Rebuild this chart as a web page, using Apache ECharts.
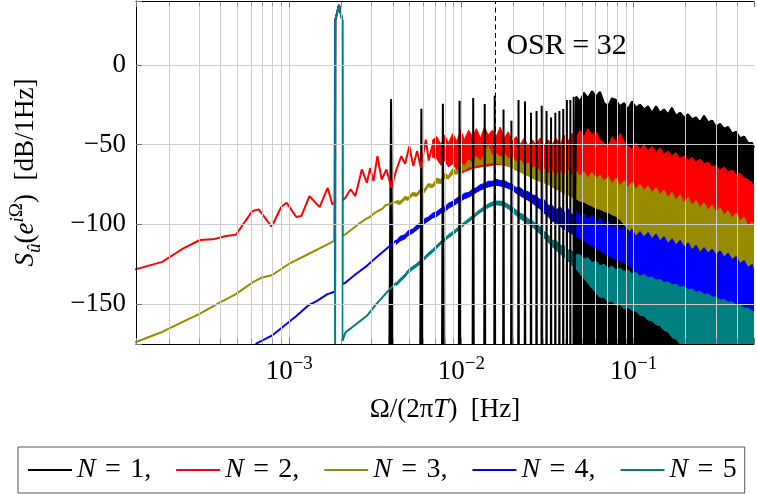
<!DOCTYPE html>
<html>
<head>
<meta charset="utf-8">
<title>Noise spectrum S_u</title>
<script src="https://cdn.jsdelivr.net/npm/echarts@6.0.0/dist/echarts.min.js"></script>
<style>
    html, body { margin: 0; padding: 0; background: #fff; }
    #chart { width: 757px; height: 494px; }
</style>
</head>
<body>
<div id="chart"></div>
<script>
    // axis ranges
    var xMin = 1.288e-4, xMax = 0.5;
    var yMin = -175, yMax = 40;

    // signal tone (shared by all N)
    var peakF = [0.00185, 0.001945, 0.00203];
    var peakV = [28, 37.5, 28];

    // N = 1: harmonics of the tone (black spikes)
    var harmF = [0.0039, 0.00585, 0.0078, 0.00975, 0.0117, 0.01365, 0.0156, 0.01755, 0.0195, 0.02145,
        0.0234, 0.02535, 0.0273, 0.02925, 0.0312, 0.03315, 0.0351, 0.03705, 0.039, 0.04095, 0.0429, 0.04485];
    var harmPeak = [-21.5, -27.5, -24.4, -22.5, -20.8, -24.6, -19.4, -28, -35, -22,
        -23, -30, -29, -25.6, -29, -33, -30, -29, -27.7, -22, -22, -20];

    // low frequency traces [f, dB]
    var redLow = [[1.25e-4, -128.5], [1.83e-4, -123.5], [2.43e-4, -115], [3.03e-4, -109.8], [3.6e-4, -109.4],
        [4.3e-4, -107.3], [4.9e-4, -106.5], [6.1e-4, -91.7], [6.65e-4, -90.6], [7.9e-4, -101.5], [9.0e-4, -89],
        [9.65e-4, -86.5], [1.1e-3, -95.4], [1.175e-3, -94.8], [1.31e-3, -82.3], [1.5e-3, -89.2], [1.67e-3, -77.1],
        [1.78e-3, -87.5], [1.845e-3, -86], [2.035e-3, -85], [2.12e-3, -83.3], [2.27e-3, -78], [2.42e-3, -82.3],
        [2.64e-3, -65.6], [2.825e-3, -74], [2.95e-3, -64.6], [3.08e-3, -72.9], [3.25e-3, -57.3], [3.44e-3, -71.9],
        [3.67e-3, -65.6], [3.92e-3, -77], [4.19e-3, -65.6], [4.47e-3, -57.3], [4.71e-3, -62], [4.98e-3, -51],
        [5.25e-3, -63.5], [5.52e-3, -54], [5.81e-3, -64.6], [6.21e-3, -46.9], [6.46e-3, -60], [6.8e-3, -50]];
    var oliveLow = [[1.25e-4, -174.3], [1.84e-4, -167.3], [2.42e-4, -161], [3.03e-4, -156], [3.94e-4, -149],
        [4.9e-4, -143.75], [6.09e-4, -136.5], [6.95e-4, -133.3], [7.92e-4, -131.9], [9.87e-4, -125],
        [1.284e-3, -118.75], [1.667e-3, -112.5], [1.823e-3, -110.4], [1.845e-3, -110], [2.035e-3, -107],
        [2.123e-3, -106.25], [2.35e-3, -102.5], [2.585e-3, -99], [2.8e-3, -96.5], [2.9e-3, -95.8],
        [3.148e-3, -92.7], [3.5e-3, -90], [3.6e-3, -88.2], [4.01e-3, -86.5], [4.2e-3, -86]];
    var blueLow = [[5.6e-4, -182], [6.51e-4, -174.4], [7.92e-4, -169.8], [9.87e-4, -161.5], [1.1e-3, -157.5],
        [1.284e-3, -151], [1.45e-3, -148], [1.667e-3, -143.75], [1.782e-3, -142.7], [1.845e-3, -142],
        [2.035e-3, -137.5], [2.123e-3, -136.5], [2.45e-3, -131], [2.825e-3, -126], [3.222e-3, -120.5],
        [3.834e-3, -113.5], [4.2e-3, -110]];
    var tealLow = [[1.845e-3, -200], [2.035e-3, -173], [2.123e-3, -167.7], [2.45e-3, -162.5], [2.825e-3, -157.3],
        [3.2e-3, -150], [3.834e-3, -140.6], [4.2e-3, -136.5]];

    // noisy high frequency part: shared frequency grid, top / bottom of each band
    var bandF = [0.0042, 0.0044, 0.0047, 0.0049, 0.0052, 0.0055, 0.0058, 0.0061, 0.0064, 0.0068,
        0.0072, 0.0076, 0.008, 0.0084, 0.0089, 0.0094, 0.0099, 0.0104, 0.011, 0.0116,
        0.0122, 0.0129, 0.0136, 0.0143, 0.0151, 0.0159, 0.0168, 0.0177, 0.0187, 0.0197,
        0.0208, 0.0219, 0.0231, 0.0244, 0.0257, 0.0271, 0.0286, 0.0302, 0.0318, 0.0336,
        0.0354, 0.0374, 0.0394, 0.0416, 0.0439, 0.0463, 0.0488, 0.0515, 0.0543, 0.0573,
        0.0604, 0.0638, 0.0673, 0.071, 0.0749, 0.079, 0.0833, 0.0879, 0.0927, 0.0978,
        0.1032, 0.1089, 0.1149, 0.1212, 0.1279, 0.1349, 0.1423, 0.1501, 0.1584, 0.1671,
        0.1763, 0.186, 0.1962, 0.207, 0.2184, 0.2304, 0.2431, 0.2564, 0.2705, 0.2854,
        0.3011, 0.3177, 0.3351, 0.3536, 0.373, 0.3935, 0.4151, 0.438, 0.462, 0.4874,
        0.5];

    var redTop = [null, null, null, null, null, null, null, null, null, -47,
        -45, -50, -44, -49, -43, -48, -41, -47, -41, -45,
        -40, -46, -39, -44, -41, -45, -39, -46, -42, -48,
        -45, -50, -46, -51, -47, -50, -46, -51, -47, -50,
        -46, -50, -44, -48, -43, -46, -41, -45, -40, -44,
        -42, -47, -49, -52, -45, -49, -43, -48, -51, -53,
        -49, -53, -50, -54, -51, -55, -52, -56, -54, -57,
        -55, -59, -57, -60, -58, -61, -59, -62, -61, -64,
        -63, -66, -64, -67, -66, -69, -68, -71, -72, -74,
        -75];
    var redBot = [null, null, null, null, null, null, null, null, null, -58,
        -59, -63, -60, -64, -62, -66, -68, -67, -66, -65,
        -64.5, -64, -63.5, -63.5, -63, -62.5, -62.5, -63, -63.5, -64.5,
        -66, -67, -67.5, -68.5, -69.5, -70.5, -71.5, -72, -73, -73.5,
        -74, -74, -74, -74, -74, -74, -74, -74.5, -74.5, -75,
        -76, -76.5, -77, -78, -78.5, -79, -80, -80.5, -81, -81.5,
        -82, -82.5, -83, -83.5, -84, -85, -85.5, -86, -87, -88,
        -89, -89.5, -90.5, -91, -92, -93, -93.5, -94, -95, -96,
        -96.5, -97.5, -98, -99, -100, -101, -102.5, -103.5, -105, -106,
        -107];
    var oliveTop = [-85, -85.5, -82.5, -83, -80, -80.5, -77.5, -77.8, -74.5, -75,
        -71, -72, -68, -69.5, -65, -66.5, -61.5, -63.5, -59.5, -61.5,
        -57.5, -60.5, -56, -51, -57, -55.5, -58, -55.5, -59, -57.5,
        -61, -59.5, -63, -61.5, -65, -63.5, -67, -65, -68.5, -66.5,
        -69.5, -66.5, -70, -66, -69.5, -66.5, -70, -67, -71, -67.5,
        -71.5, -69, -73, -70, -74.5, -71, -76, -72.5, -77, -73.5,
        -78, -75, -78.5, -76, -80, -77, -81.5, -78.5, -83, -80,
        -85, -81.5, -86.5, -83, -88, -85, -89.5, -86.5, -91, -88,
        -92.5, -89.5, -94, -91.5, -96, -93, -98, -95.5, -101, -98.5,
        -103];
    var oliveBot = [-87, -87.5, -84.5, -85, -82, -82.5, -79.5, -80, -76.5, -77,
        -74, -74.5, -71, -71.5, -68.5, -68.5, -66, -66, -64, -64,
        -63, -62.5, -62, -61.5, -61.5, -61.5, -62, -62.5, -63.5, -64.5,
        -66, -67, -68.5, -69.5, -71, -72, -73, -74, -75, -76.5,
        -78, -79, -80.5, -81.5, -83, -84, -85.5, -86, -87.5, -88.5,
        -90, -90.5, -92, -92.5, -94, -95, -97, -100, -103, -106,
        -109.5, -110, -110.5, -111, -111, -112, -112.5, -113.5, -114, -114.5,
        -115, -115.5, -116, -117, -118, -119, -119.5, -120, -120, -120.5,
        -121, -122, -122.5, -123, -124, -125.5, -126.5, -128, -129, -130,
        -131];
    var blueTop = [-110, -107.5, -106.5, -104, -103, -100.5, -99, -96.5, -95.5, -93,
        -92, -90, -89, -86.8, -85.5, -83.5, -82.5, -80.5, -80, -78,
        -77, -75, -74.5, -73, -73, -71.8, -72.5, -72.5, -74, -74.8,
        -77, -77, -79, -79.5, -81.5, -82, -84.5, -84.5, -88, -88,
        -91, -89, -92.5, -90, -94, -91.5, -95.5, -93, -97, -94.5,
        -99, -96, -100.5, -98, -102, -99.5, -104, -101.5, -106, -103,
        -107.5, -104.5, -108, -105, -109, -106, -110.5, -107.5, -112, -109,
        -113, -110, -114, -111.5, -116, -113, -117.5, -114.5, -118, -115.5,
        -119, -116.5, -120.5, -118, -122, -120, -124.5, -122.5, -127, -125,
        -129];
    var blueBot = [-112.5, -110.5, -109, -107, -105.5, -103.5, -101.5, -99.5, -98, -96,
        -95, -93, -92, -90, -88.5, -87, -85.5, -84, -83, -81.5,
        -80, -78.5, -77.5, -76.5, -76, -75.5, -76, -76.5, -77.5, -78.5,
        -80.5, -82, -83.5, -85, -86.5, -88.5, -90.5, -93, -95, -98,
        -99, -101, -103, -104.5, -106, -107.5, -109, -110.5, -112, -113.5,
        -115, -116.5, -118, -119.5, -121, -122, -123, -124, -125.5, -127,
        -130, -132, -131.5, -133.5, -133, -135, -134.5, -136.5, -136, -138,
        -137.5, -139.5, -139, -141, -140.5, -142.5, -142, -144, -143.5, -145.5,
        -145, -147.5, -147, -149, -148.5, -151, -150.5, -152.5, -152.5, -154.5,
        -155];
    var tealTop = [-136.5, -134, -131.2, -128.5, -126.4, -124.5, -122.5, -120.3, -118, -115.6,
        -113, -110.5, -108.5, -106.5, -104.5, -102.5, -100.5, -98.5, -96.5, -94.5,
        -92.5, -90.5, -88.8, -87.2, -86, -85.4, -85.4, -86, -87.5, -89.3,
        -91, -93, -94, -96.5, -97.5, -100, -101.5, -104.5, -106.5, -110,
        -110, -113, -113.5, -116, -116.5, -119, -119, -121.5, -121, -124,
        -123, -126, -125, -127.5, -126, -128.5, -127.5, -129.5, -128.5, -131,
        -130, -132.5, -131.5, -133.5, -133, -135, -134.5, -136.5, -136, -138,
        -137.5, -139.5, -139, -141, -140.5, -142.5, -142, -144, -143.5, -145.5,
        -145.5, -147.5, -147, -149, -148.5, -150.5, -150.5, -152.5, -152.5, -154.5,
        -155];
    var tealBot = [-138.5, -136, -133.2, -130.5, -128.4, -126.5, -124.5, -122.3, -120, -117.6,
        -115, -112.5, -110.5, -108.5, -106.5, -104.5, -102.5, -100.5, -98.5, -96.5,
        -94.5, -92.5, -91, -89.5, -88.3, -87.8, -88, -88.7, -90.3, -92.3,
        -94.5, -96.5, -98, -100, -101.5, -103.5, -106, -108.5, -111, -114,
        -116, -118.5, -120.5, -123, -125.5, -128, -131, -134, -137, -140,
        -143, -146, -145.5, -149, -148, -151, -150, -153, -152, -154,
        -154.5, -157, -157.5, -160, -160.5, -163, -163.5, -166.5, -167.5, -171,
        -172, -175, -177, -180, -182, -184, -186, -188, -190, -192,
        -194, -196, -198, -200, -200, -200, -200, -200, -200, -200,
        -200];
    // N = 1 where the harmonics merge into one dense block (bandF from index 45 on)
    var blackTop = [-20, -23, -17.5, -21, -16.5, -20, -17, -24, -26, -21,
        -22, -26, -24, -28, -23, -27, -25, -28, -26, -30,
        -26, -30, -28, -31, -27, -32, -30, -33, -31, -34,
        -33, -36, -32, -36, -35, -39, -37, -40, -39, -43,
        -42, -46, -45, -49, -49, -52];

    // grid lines
    var gridF = [2e-4, 3e-4, 4e-4, 5e-4, 6e-4, 7e-4, 8e-4, 9e-4, 1e-3,
        2e-3, 3e-3, 4e-3, 5e-3, 6e-3, 7e-3, 8e-3, 9e-3, 1e-2,
        2e-2, 3e-2, 4e-2, 5e-2, 6e-2, 7e-2, 8e-2, 9e-2, 0.1, 0.2, 0.3, 0.4];
    var gridY = [-150, -100, -50, 0];
    var osrF = 0.015625;

    var FONT = '"Liberation Serif", "DejaVu Serif", serif';
    var spikeHalf = 1e-4;

    function withPeak(trace) {
        var pts = trace.slice();
        peakF.forEach(function (f, i) { pts.push([f, peakV[i]]); });
        return pts.sort(function (a, b) { return a[0] - b[0]; });
    }

    function lineSeries(name, color, data, width) {
        return {
            name: name, type: 'line', data: data, symbol: 'none', showSymbol: false,
            clip: true, z: 2, silent: true,
            itemStyle: { color: color },
            lineStyle: { color: color, width: width }
        };
    }

    function bandSeries(name, color, top, bot) {
        return {
            name: name, type: 'custom', z: 2, silent: true, clip: true,
            data: [[bandF[0], 0]],
            renderItem: function (params, api) {
                if (params.dataIndex !== 0) return null;
                var up = [], dn = [];
                for (var i = 0; i < bandF.length; i++) {
                    if (top[i] == null) continue;
                    up.push(api.coord([bandF[i], Math.max(top[i], yMin)]));
                    dn.push(api.coord([bandF[i], Math.max(bot[i], yMin)]));
                }
                return {
                    type: 'polygon',
                    shape: { points: up.concat(dn.reverse()) },
                    style: { fill: color, stroke: color, lineWidth: 1 }
                };
            }
        };
    }

    // black: harmonic spikes then the dense block, filled down to the axis
    var blackData = [];
    harmF.forEach(function (f, k) {
        blackData.push([f - spikeHalf, -200], [f, harmPeak[k]], [f + spikeHalf, -200]);
    });
    for (var i = 45; i < bandF.length; i++) {
        blackData.push([bandF[i], blackTop[i - 45]]);
    }

    var gridLines = [];
    gridF.forEach(function (f) { gridLines.push({ xAxis: f }); });
    gridY.forEach(function (v) { gridLines.push({ yAxis: v }); });
    gridF.forEach(function (f) {
        gridLines.push([{ coord: [f, yMax] }, { coord: [f, yMax - 3.5], lineStyle: { color: '#9a9a9a' } }]);
        gridLines.push([{ coord: [f, yMin] }, { coord: [f, yMin + 3.5], lineStyle: { color: '#9a9a9a' } }]);
    });
    gridLines.push({ xAxis: osrF, lineStyle: { color: '#000', type: [5, 3.5], width: 1 } });

    var axisBase = {
        type: 'log', logBase: 10, min: xMin, max: xMax, z: 5,
        axisLine: { show: true, onZero: false, lineStyle: { color: '#000', width: 1 } },
        axisTick: { show: true, inside: true, length: 6, lineStyle: { color: '#777' } },
        splitLine: { show: false }
    };

    var chart = echarts.init(document.getElementById('chart'), null, { renderer: 'canvas' });
    chart.setOption({
        animation: false,
        backgroundColor: '#fff',
        // the plot box runs a few pixels past the right edge of the page
        grid: { left: 135, width: 629, top: 1, height: 343 },
        xAxis: [
            Object.assign({}, axisBase, {
                position: 'bottom',
                axisLabel: {
                    interval: 0, margin: 11, color: '#000', fontFamily: FONT, fontSize: 27,
                    formatter: function (v) {
                        var e = Math.log10(v), r = Math.round(e);
                        if (Math.abs(e - r) > 1e-6) return '';
                        return '{b|10}{s|\u2212' + (-r) + '}';
                    },
                    rich: {
                        b: { fontFamily: FONT, fontSize: 27, lineHeight: 34, color: '#000' },
                        s: { fontFamily: FONT, fontSize: 19, lineHeight: 18, verticalAlign: 'top', color: '#000' }
                    }
                },
                name: '{n|\u03A9/(2\u03C0}{i|T}{n|)  [Hz]}',
                nameLocation: 'middle', nameGap: 52,
                nameTextStyle: {
                    rich: {
                        n: { fontFamily: FONT, fontSize: 27, color: '#000' },
                        i: { fontFamily: FONT, fontSize: 27, fontStyle: 'italic', color: '#000' }
                    }
                }
            }),
            Object.assign({}, axisBase, { position: 'top', axisLabel: { show: false } })
        ],
        yAxis: {
            type: 'value', min: yMin, max: yMax, z: 5, position: 'left',
            axisLine: { show: true, onZero: false, lineStyle: { color: '#000', width: 1 } },
            axisTick: { show: true, inside: true, length: 6, lineStyle: { color: '#777' } },
            splitLine: { show: false },
            axisLabel: {
                margin: 10, color: '#000', fontFamily: FONT, fontSize: 27,
                formatter: function (v) {
                    if (v % 50 !== 0) return '';
                    return v < 0 ? '\u2212' + (-v) : '' + v;
                }
            },
            name: '{i|S}{sub|\u00FB}{n|(}{i|e}{supi|i}{sup|\u03A9}{n|)  [dB/1Hz]}',
            nameLocation: 'middle', nameRotate: 90, nameGap: 92,
            nameTextStyle: {
                rich: {
                    n: { fontFamily: FONT, fontSize: 27, lineHeight: 36, color: '#000' },
                    i: { fontFamily: FONT, fontSize: 27, lineHeight: 36, fontStyle: 'italic', color: '#000' },
                    sub: { fontFamily: FONT, fontSize: 19, lineHeight: 16, fontStyle: 'italic', verticalAlign: 'bottom', color: '#000' },
                    supi: { fontFamily: FONT, fontSize: 19, lineHeight: 16, fontStyle: 'italic', verticalAlign: 'top', color: '#000' },
                    sup: { fontFamily: FONT, fontSize: 19, lineHeight: 16, verticalAlign: 'top', color: '#000' }
                }
            }
        },
        legend: {
            left: 18, top: 447, orient: 'horizontal',
            icon: 'rect', itemWidth: 44, itemHeight: 2, itemGap: 25,
            padding: [7, 8, 7, 10],
            borderColor: '#555', borderWidth: 1,
            selectedMode: false,
            data: ['N1', 'N2', 'N3', 'N4', 'N5'],
            formatter: function (name) {
                var k = name.slice(1);
                return '{i|N}\u2004=\u2004' + k + (k === '5' ? '' : ',');
            },
            textStyle: {
                fontFamily: FONT, fontSize: 28, color: '#000', lineHeight: 32,
                rich: { i: { fontFamily: FONT, fontSize: 28, fontStyle: 'italic', color: '#000', lineHeight: 32 } }
            }
        },
        series: [
            {
                name: 'grid', type: 'line', data: [[1e-5, 0]], z: 1, symbol: 'none', silent: true,
                lineStyle: { width: 0 },
                markLine: {
                    silent: true, symbol: ['none', 'none'], animation: false, precision: 10,
                    label: { show: false },
                    lineStyle: { color: '#cccccc', width: 1, type: 'solid' },
                    data: gridLines
                },
                markPoint: {
                    silent: true, animation: false,
                    data: [{
                        coord: [0.0173, 12], symbol: 'circle', symbolSize: 0,
                        label: {
                            show: true, position: 'right', distance: 4, formatter: 'OSR = 32',
                            fontFamily: FONT, fontSize: 30, color: '#000'
                        }
                    }]
                }
            },
            Object.assign(lineSeries('N1', '#000000', blackData, 2), {
                areaStyle: { origin: 'start', color: '#000000', opacity: 1 }
            }),
            lineSeries('N2', '#ff0000', withPeak(redLow), 2),
            bandSeries('N2band', '#ff0000', redTop, redBot),
            lineSeries('N3', '#978c00', withPeak(oliveLow), 2),
            bandSeries('N3band', '#978c00', oliveTop, oliveBot),
            lineSeries('N4', '#0000ff', withPeak(blueLow), 2),
            bandSeries('N4band', '#0000ff', blueTop, blueBot),
            lineSeries('N5', '#008080', withPeak(tealLow), 2),
            bandSeries('N5band', '#008080', tealTop, tealBot)
        ]
    });
</script>
</body>
</html>
